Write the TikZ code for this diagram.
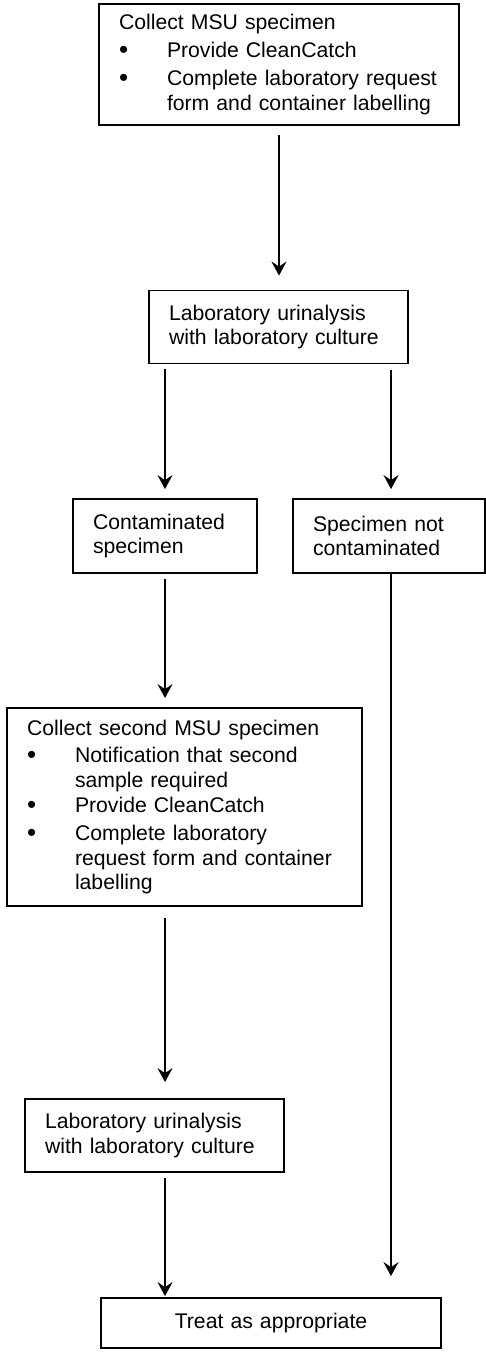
\documentclass[tikz,border=0pt]{standalone}
\usepackage{fontspec}
\setmainfont{Liberation Sans}
\usetikzlibrary{arrows.meta}
\setlength{\parindent}{0pt}

\newcommand{\bulletitem}[1]{\par\vspace{1.5pt}\noindent\makebox[24pt][l]{\raisebox{-0.4pt}{\fontsize{13pt}{12pt}\selectfont\textbullet}}\parbox[t]{\dimexpr\linewidth-24pt\relax}{#1}}

\tikzstyle{bigbox} = [rectangle, minimum height=60.5pt, text width=160pt, inner xsep=10pt, align=left, draw=black, line width=0.9pt, fill=none]
\tikzstyle{labbox} = [rectangle, minimum height=36.5pt, text width=109.5pt, inner xsep=10pt, align=left, draw=black, line width=0.9pt, fill=none]
\tikzstyle{smallbox} = [rectangle, minimum height=37pt, text width=72pt, inner xsep=10pt, align=left, draw=black, line width=0.9pt, fill=none]
\tikzstyle{endbox} = [rectangle, minimum height=25pt, text width=150pt, inner xsep=10pt, align=center, draw=black, line width=0.9pt, fill=none]
\tikzstyle{arrow} = [line width=0.85pt, -{Stealth[length=7pt, width=7.5pt, inset=2.5pt]}]

\begin{document}
\begin{tikzpicture}[node distance=100pt, font=\fontsize{10.6pt}{12.4pt}\selectfont]
        \useasboundingbox (0,0) rectangle (243pt,-676pt);

        \node (Collect) [bigbox] at (139.5pt,-32.25pt) {Collect MSU specimen \bulletitem{Provide CleanCatch} \bulletitem{Complete laboratory request\\ form and container labelling}};
        \node (Lab) [labbox, below of = Collect, yshift = -31.25pt, xshift = -0.25pt] {Laboratory urinalysis\\ with laboratory culture};
        \node (Contaminated) [smallbox, below of = Lab, yshift = -4.5pt, xshift = -56.75pt] {Contaminated\\ specimen};
        \node (Not Contaminated) [smallbox, text width=76pt, right of = Contaminated, xshift = 12pt] {Specimen not\\ contaminated};
        \node (Second) [bigbox, text width=157.5pt, minimum height=99pt, below of = Contaminated, yshift = -35.5pt, xshift = 9.75pt] {Collect second MSU specimen \bulletitem{Notification that second\\ sample required} \bulletitem{Provide CleanCatch} \bulletitem{Complete laboratory\\ request form and container\\ labelling}};
        \node (Lab Second) [labbox, below of = Second, yshift = -64.25pt, xshift = -15pt] {Laboratory urinalysis\\ with laboratory culture};
        \node (Treat) [endbox, below of = Lab Second, yshift = 6.25pt, xshift = 58.25pt] {Treat as appropriate};

        \draw [arrow, shorten <=4.5pt, shorten >=7pt] (Collect.south) -- (Collect.south |- Lab.north);
        \draw [arrow, shorten <=2.5pt, shorten >=4.5pt] (Lab.south -| Contaminated.north) -- (Contaminated.north);
        \draw [arrow, shorten <=3pt, shorten >=4.5pt] ([xshift=1pt]Lab.south -| Not Contaminated.north) -- ([xshift=1pt]Not Contaminated.north);
        \draw [arrow, shorten <=2.5pt, shorten >=4.5pt] (Contaminated.south) -- (Contaminated.south |- Second.north);
        \draw [arrow, shorten <=5.5pt, shorten >=8pt] (Second.south -| Contaminated.south) -- (Lab Second.north -| Contaminated.south);
        \draw [arrow, shorten <=2.5pt, shorten >=0.5pt] (Lab Second.south -| Contaminated.south) -- (Treat.north -| Contaminated.south);
        \draw [arrow, shorten >=10.5pt] ([xshift=1pt]Not Contaminated.south) -- ([xshift=1pt]Not Contaminated.south |- Treat.north);
    \end{tikzpicture}
\end{document}
